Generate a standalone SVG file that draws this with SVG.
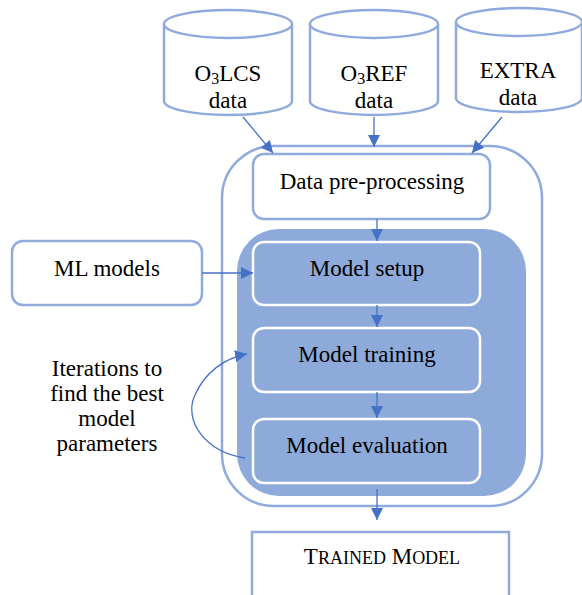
<svg xmlns="http://www.w3.org/2000/svg" width="582" height="595" viewBox="0 0 582 595">
<style>
.t{font-family:'Liberation Serif','DejaVu Serif',serif;font-size:23px;fill:#000;text-anchor:middle}
.lb{fill:#fff;stroke:#8faadc;stroke-width:2.5}
.in{fill:#8eaadb;stroke:#fff;stroke-width:2.5}
.cn{fill:none;stroke:#4472c4;stroke-width:1.3}
</style>
<defs>
<marker id="ah" markerWidth="12" markerHeight="12" viewBox="0 0 12 12" refX="12" refY="6" orient="auto" markerUnits="userSpaceOnUse">
<path d="M0,0 L12,6 L0,12 z" fill="#4472c4"/>
</marker>
</defs>
<rect width="582" height="595" fill="#fff"/>
<g id="cyl1">
<path class="lb" d="M164,24 A64,14 0 0 1 292,24 V101 A64,14 0 0 1 164,101 Z"/>
<path class="lb" fill="none" d="M164,24 A64,14 0 0 0 292,24"/>
<text class="t" font-family="Liberation Serif, serif" x="228" y="81">O<tspan font-size="16" dy="3">3</tspan><tspan dy="-3">LCS</tspan></text>
<text class="t" font-family="Liberation Serif, serif" x="228" y="108">data</text>
</g>
<g id="cyl2">
<path class="lb" d="M310,24 A64,14 0 0 1 438,24 V101 A64,14 0 0 1 310,101 Z"/>
<path class="lb" fill="none" d="M310,24 A64,14 0 0 0 438,24"/>
<text class="t" font-family="Liberation Serif, serif" x="374" y="81">O<tspan font-size="16" dy="3">3</tspan><tspan dy="-3">REF</tspan></text>
<text class="t" font-family="Liberation Serif, serif" x="374" y="108">data</text>
</g>
<g id="cyl3">
<path class="lb" d="M456,22 A63,14 0 0 1 582,22 V98 A63,14 0 0 1 456,98 Z"/>
<path class="lb" fill="none" d="M456,22 A63,14 0 0 0 582,22"/>
<text class="t" font-family="Liberation Serif, serif" x="518" y="78">EXTRA</text>
<text class="t" font-family="Liberation Serif, serif" x="518" y="105">data</text>
</g>
<g id="outer">
<rect class="lb" x="222" y="146" width="320" height="360" rx="52"/>
</g>
<g id="inner">
<rect x="237" y="229" width="289" height="267" rx="42" fill="#8eaadb"/>
</g>
<g id="preproc">
<rect class="lb" x="253" y="154" width="237" height="65" rx="11"/>
<text class="t" font-family="Liberation Serif, serif" x="372" y="189">Data pre-processing</text>
</g>
<g id="setup">
<rect class="in" x="253" y="242" width="227" height="63" rx="11"/>
<text class="t" font-family="Liberation Serif, serif" x="367" y="276">Model setup</text>
</g>
<g id="training">
<rect class="in" x="253" y="328" width="227" height="64" rx="11"/>
<text class="t" font-family="Liberation Serif, serif" x="367" y="362">Model training</text>
</g>
<g id="evaluation">
<rect class="in" x="253" y="419" width="227" height="64" rx="11"/>
<text class="t" font-family="Liberation Serif, serif" x="367" y="453">Model evaluation</text>
</g>
<g id="ml">
<rect class="lb" x="12" y="241" width="190" height="64" rx="11"/>
<text class="t" font-family="Liberation Serif, serif" x="107" y="276">ML models</text>
</g>
<g id="trained">
<rect class="lb" x="252" y="532" width="257" height="70"/>
<text class="t" font-family="Liberation Serif, serif" x="382" y="564">T<tspan font-size="18">RAINED</tspan> M<tspan font-size="18">ODEL</tspan></text>
</g>
<g id="iter-label">
<text class="t" font-family="Liberation Serif, serif" x="107" y="376">Iterations to</text>
<text class="t" font-family="Liberation Serif, serif" x="107" y="401">find the best</text>
<text class="t" font-family="Liberation Serif, serif" x="107" y="426">model</text>
<text class="t" font-family="Liberation Serif, serif" x="107" y="451">parameters</text>
</g>
<g id="connectors">
<line class="cn" x1="243" y1="117" x2="273" y2="153" marker-end="url(#ah)"/>
<line class="cn" x1="374" y1="117" x2="374" y2="147" marker-end="url(#ah)"/>
<line class="cn" x1="502" y1="117" x2="472" y2="153" marker-end="url(#ah)"/>
<line class="cn" x1="377" y1="219" x2="377" y2="241" marker-end="url(#ah)"/>
<line class="cn" x1="377" y1="305" x2="377" y2="327" marker-end="url(#ah)"/>
<line class="cn" x1="377" y1="392" x2="377" y2="418" marker-end="url(#ah)"/>
<line class="cn" x1="377" y1="489" x2="377" y2="520" marker-end="url(#ah)"/>
<line class="cn" x1="202" y1="273" x2="253" y2="273" marker-end="url(#ah)"/>
<path class="cn" d="M245,458 C205,452 183,420 195,395 C205,372 225,358 247,354" marker-end="url(#ah)"/>
</g>
</svg>
